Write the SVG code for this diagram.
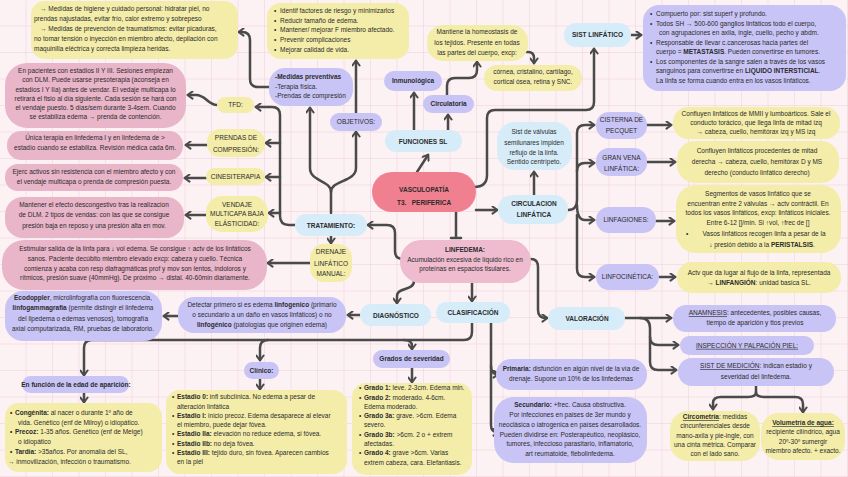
<svg xmlns="http://www.w3.org/2000/svg" width="848" height="477" viewBox="0 0 848 477">
<defs>
<pattern id="grid" width="26.5" height="26.5" patternUnits="userSpaceOnUse">
<path d="M26.5,0 V26.5 M0,26.5 H26.5" fill="none" stroke="#eecbd7" stroke-width="0.9"/>
</pattern>
<marker id="ar" viewBox="0 0 10 10" refX="7" refY="5" markerWidth="3.6" markerHeight="3.6" orient="auto" markerUnits="strokeWidth">
<path d="M2,1 L7.5,5 L2,9" fill="none" stroke="#4a4a4a" stroke-width="2.2" stroke-linecap="round" stroke-linejoin="round"/>
</marker>
<style>
.y{fill:#f4eda9}
.p{fill:#e9b5c9}
.l{fill:#c9c4f6}
.c{fill:#d6edf9}
text{font-family:"Liberation Sans",Arial,sans-serif;font-size:6.5px;fill:#2b2b2b}
.m{text-anchor:middle}
.b{font-weight:bold}
.k path{fill:none;stroke:#4a4a4a;stroke-width:2.5;stroke-linecap:round;stroke-linejoin:round}
.k .a{marker-end:url(#ar)}
</style>
</defs>
<rect width="848" height="477" fill="#fcf1f3"/>
<rect width="848" height="477" fill="url(#grid)"/>

<g class="k" id="connectors">
<path class="a" d="M269,87 H258 Q250,87 250,79 V40 Q250,32 242,32 H239"/>
<path class="a" d="M356,113 V61"/>
<path class="a" d="M331,213 V192 C331,180 310,182 310,168 V108"/>
<path class="a" d="M331,192 C331,180 356,182 356,168 V132"/>
<path class="a" d="M295,225 H289 Q280,225 280,216 V115 Q280,107 272,107 H256"/>
<path class="a" d="M280,143 H266"/>
<path class="a" d="M280,177 H266"/>
<path class="a" d="M280,213 H269"/>
<path class="a" d="M217,105 C208,105 206,95 196,95 H188"/>
<path class="a" d="M207,145 H186"/>
<path class="a" d="M206,178 H185"/>
<path class="a" d="M206,215 H186"/>
<path class="a" d="M310,263 H268"/>
<path class="a" d="M331,236 V243"/>
<path class="a" d="M403,259 Q395,259 395,251 V233 Q395,225 387,225 H368"/>
<path class="a" d="M414,281 C414,291 397,287 397,296 V303"/>
<path class="a" d="M360,315 H348"/>
<path class="a" d="M178,316 H164"/>
<path d="M456,212 V238 M451,238 H461"/>
<path class="a" d="M472,283 V301"/>
<path class="a" d="M472,323 V332 Q472,340 464,340 H92 Q84,340 84,348 V375"/>
<path class="a" d="M268,340 Q260,340 260,348 V360"/>
<path class="a" d="M404,340 Q412,340 412,346 V349"/>
<path class="a" d="M84,393 V402"/>
<path class="a" d="M260,379 V389"/>
<path class="a" d="M412,368 V382"/>
<path class="a" d="M491,323 V425 Q491,432 497,432 H498"/>
<path class="a" d="M491,366 Q491,374 497,374 H498"/>
<path class="a" d="M531,259 Q538,259 538,267 V310 Q538,318 546,318 H547"/>
<path class="a" d="M625,318 H671"/>
<path class="a" d="M640,318 Q650,318 650,328 V337 Q650,345 658,345 H678"/>
<path class="a" d="M650,337 V362 Q650,370 658,370 H676"/>
<path class="a" d="M756,386 V392 Q756,397 748,397 H721 Q713,397 713,403 V409"/>
<path class="a" d="M756,392 Q756,397 764,397 H795 Q803,397 803,404 V412"/>
<path class="a" d="M476,210 H497"/>
<path class="a" d="M474,187 Q487,187 487,175 V118 Q487,110 495,110 H586 Q594,110 594,102 V49"/>
<path class="a" d="M631,35 H641"/>
<path class="a" d="M534,195 V172"/>
<path class="a" d="M568,210 Q577,210 577,200 V133 Q577,125 585,125 H594"/>
<path class="a" d="M577,171 Q577,163 585,163 H594"/>
<path class="a" d="M577,205 Q577,220 585,220 H594"/>
<path class="a" d="M577,215 V269 Q577,277 585,277 H594"/>
<path class="a" d="M647,125 H671"/>
<path class="a" d="M647,162 H675"/>
<path class="a" d="M656,221 H674"/>
<path class="a" d="M659,277 H675"/>
<path class="a" d="M414,130 V93"/>
<path class="a" d="M448,130 V115"/>
<path class="a" d="M447,95 V86 Q447,78 455,78 H469 Q477,78 477,70 V62"/>
<path class="a" d="M526,52 H528 Q534,52 534,58 V63"/>
<path class="a" d="M417,172 L428,155"/>
</g>

<g id="n-higiene"><rect class="y" x="31" y="1" width="207" height="58" rx="14"/>
<text x="40" y="11.2">→ Medidas de higiene y cuidado personal: hidratar piel, no</text>
<text x="34" y="21.2">prendas najustadas, evitar frío, calor extremo y sobrepeso</text>
<text x="40" y="31.2">→ Medidas de prevención de traumatismos: evitar picaduras,</text>
<text x="34" y="41.2">no tomar tensión o inyección en miembro afecto, depilación con</text>
<text x="34" y="51.2">maquinilla eléctrica y correcta limpieza heridas.</text></g>

<g id="n-pacientes"><rect class="p" x="5" y="63" width="181" height="65" rx="22"/>
<text class="m" x="95.5" y="73.2">En pacientes con estadios II Y III. Sesiones empiezan</text>
<text class="m" x="95.5" y="82.4">con DLM. Puede usarse presoterapia (aconseja en</text>
<text class="m" x="95.5" y="91.6">estadíos I Y IIa) antes de vendar. El vedaje multicapa lo</text>
<text class="m" x="95.5" y="100.8">retirará el fisio al día siguiente. Cada sesión se hará con</text>
<text class="m" x="95.5" y="110">el vendaje puesto. 5 días/sem durante 3-4sem. Cuando</text>
<text class="m" x="95.5" y="119.2">se estabiliza edema → prenda de contención.</text></g>

<g id="n-unica"><rect class="p" x="7" y="131" width="176" height="29" rx="14"/>
<text class="m" x="95" y="140.2">Única terapia en linfedema I y en linfedema de &gt;</text>
<text class="m" x="95" y="150.2">estadío cuando se estabiliza. Revisión médica cada 6m.</text></g>

<g id="n-ejerc"><rect class="p" x="5" y="164" width="178" height="27" rx="13"/>
<text class="m" x="94" y="174.2">Ejerc activos sin resistencia con el miembro afecto y con</text>
<text class="m" x="94" y="184.2">el vendaje multicapa o prenda de compresión puesta.</text></g>

<g id="n-mantener"><rect class="p" x="5" y="197" width="179" height="41" rx="18"/>
<text class="m" x="94" y="206.5">Mantener el efecto descongestivo tras la realizacion</text>
<text class="m" x="94" y="217.2">de DLM. 2 tipos de vendas: con las que se consigue</text>
<text class="m" x="94" y="228">presión baja en reposo y una presión alta en mov.</text></g>

<g id="n-estimular"><rect class="p" x="2" y="240" width="265" height="50" rx="22"/>
<text class="m" x="135" y="251.2" font-size="6.3">Estimular salida de la linfa para ↓ vol edema. Se consigue ↑ actv de los linfáticos</text>
<text class="m" x="135" y="261" font-size="6.3">sanos. Paciente decúbito miembro elevado excp: cabeza y cuello. Técnica</text>
<text class="m" x="135" y="270.5" font-size="6.3">comienza y acaba con resp diafragmáticas prof y mov son lentos, indoloros y</text>
<text class="m" x="135" y="280.3" font-size="6.3">rítmicos, presión suave (40mmHg). De próximo → distal. 40-60min diariamente.</text></g>

<g id="n-ecodoppler"><rect class="l" x="5" y="291" width="157" height="50" rx="18"/>
<text class="m" x="83" y="300.2"><tspan class="b">Ecodoppler</tspan>, microlinfografía con fluorescencia,</text>
<text class="m" x="83" y="310.4"><tspan class="b">linfogammagrafía</tspan> (permite distingir el linfedema</text>
<text class="m" x="83" y="320.6">del lipedema o edemas venosos), tomografía</text>
<text class="m" x="83" y="330.8">axial computarizada, RM, pruebas de laboratorio.</text></g>

<g id="n-detectar"><rect class="l" x="178" y="297" width="168" height="36" rx="16"/>
<text class="m" x="262" y="307.2">Detectar primero si es edema <tspan class="b">linfogenico</tspan> (primario</text>
<text class="m" x="262" y="317.2">o secundario a un daño en vasos linfáticos) o no</text>
<text class="m" x="262" y="327.2"><tspan class="b">linfogénico</tspan> (patologías que originen edema)</text></g>

<g id="n-diagnostico"><rect class="c" x="360" y="304" width="71" height="22" rx="11"/>
<text class="m b" x="396" y="317.6" font-size="7.2">DIAGNÓSTICO</text></g>

<g id="n-clasificacion"><rect class="c" x="436" y="302" width="74" height="21" rx="10.5"/>
<text class="m b" x="473" y="315" font-size="7.2">CLASIFICACIÓN</text></g>

<g id="n-edad-label"><rect class="l" x="22" y="376" width="107" height="17" rx="8.5"/>
<text class="m b" x="76" y="386.7" font-size="6">En función de la edad de aparición:</text></g>

<g id="n-edad"><rect class="y" x="5" y="403" width="157" height="69" rx="14"/>
<text x="10" y="415"><tspan class="b">•</tspan></text><text x="15" y="415"><tspan class="b">Congénita:</tspan> al nacer o durante 1º año de</text>
<text x="18" y="424.7">vida. Genético (enf de Milroy) o idiopático.</text>
<text x="10" y="434.4"><tspan class="b">•</tspan></text><text x="15" y="434.4"><tspan class="b">Precoz:</tspan> 1-35 años. Genético (enf de Meige)</text>
<text x="18" y="444.1">o idiopático</text>
<text x="10" y="453.8"><tspan class="b">•</tspan></text><text x="15" y="453.8"><tspan class="b">Tardía:</tspan> &gt;35años. Por anomalía del SL,</text>
<text x="8" y="463.5">→ inmovilización, infección o traumatismo.</text></g>

<g id="n-clinico-label"><rect class="l" x="244" y="362" width="35" height="17" rx="8.5"/>
<text class="m b" x="261.5" y="372.8" font-size="7">Clínico:</text></g>

<g id="n-clinico"><rect class="y" x="166" y="390" width="181" height="84" rx="14"/>
<text x="172" y="399.2">•</text><text x="177" y="399.2"><tspan class="b">Estadio 0:</tspan> infl subclínica. No edema a pesar de</text>
<text x="177" y="408.5">alteración linfática</text>
<text x="172" y="417.8">•</text><text x="177" y="417.8"><tspan class="b">Estadio I:</tspan> inicio precoz. Edema desaparece al elevar</text>
<text x="177" y="427.1">el miembro, puede dejar fóvea.</text>
<text x="172" y="436.4">•</text><text x="177" y="436.4"><tspan class="b">Estadio IIa:</tspan> elevación no reduce edema,  si  fóvea.</text>
<text x="172" y="445.7">•</text><text x="177" y="445.7"><tspan class="b">Estadio IIb:</tspan> no deja fóvea.</text>
<text x="172" y="455">•</text><text x="177" y="455"><tspan class="b">Estadio III:</tspan> tejido duro, sin fóvea. Aparecen cambios</text>
<text x="177" y="464.3">en la piel</text></g>

<g id="n-grados-label"><rect class="l" x="373" y="350" width="77" height="18" rx="9"/>
<text class="m b" x="411.5" y="361.3" font-size="6.6">Grados de severidad</text></g>

<g id="n-grados"><rect class="y" x="352" y="383" width="120" height="92" rx="14"/>
<text x="359" y="390.2">•</text><text x="364" y="390.2"><tspan class="b">Grado 1:</tspan> leve. 2-3cm. Edema min.</text>
<text x="359" y="399.5">•</text><text x="364" y="399.5"><tspan class="b">Grado 2:</tspan> moderado. 4-6cm.</text>
<text x="364" y="408.8">Edema moderado.</text>
<text x="359" y="418.1">•</text><text x="364" y="418.1"><tspan class="b">Grado 3a:</tspan> grave. &gt;6cm. Edema</text>
<text x="364" y="427.4">severo.</text>
<text x="359" y="436.7">•</text><text x="364" y="436.7"><tspan class="b">Grado 3b:</tspan> &gt;6cm. 2 o + extrem</text>
<text x="364" y="446">afectadas.</text>
<text x="359" y="455.3">•</text><text x="364" y="455.3"><tspan class="b">Grado 4:</tspan> grave &gt;6cm. Varias</text>
<text x="364" y="464.6">extrem cabeza, cara. Elefantiasis.</text></g>

<g id="n-primaria"><rect class="l" x="496" y="359" width="151" height="31" rx="15"/>
<text class="m" x="571" y="371.2"><tspan class="b">Primaria:</tspan> disfunción en algún nivel de la vía de</text>
<text class="m" x="571" y="381.2">drenaje. Supone un 10% de los linfedemas</text></g>

<g id="n-secundario"><rect class="l" x="494" y="397" width="153" height="66" rx="20"/>
<text class="m" x="570" y="407.2"><tspan class="b">Secundario:</tspan> +frec. Causa obstructiva.</text>
<text class="m" x="570" y="417.2">Por infecciones en países de 3er mundo y</text>
<text class="m" x="570" y="427.2">neoclásica o iatrogenica en países desarrollados.</text>
<text class="m" x="570" y="436.8">Pueden dividirse en: Posterapéutico, neoplásico,</text>
<text class="m" x="570" y="446.4">tumores, infeccioso parasitario, inflamatorio,</text>
<text class="m" x="570" y="456">art reumatoide, flebolinfedema.</text></g>

<g id="n-valoracion"><rect class="c" x="548" y="307" width="77" height="23" rx="11.5"/>
<text class="m b" x="587" y="320.8" font-size="6.8">VALORACIÓN</text></g>

<g id="n-anamnesis"><rect class="l" x="673" y="305" width="163" height="27" rx="13"/>
<text class="m" x="755" y="315.2"><tspan text-decoration="underline">ANAMNESIS</tspan>: antecedentes, posibles causas,</text>
<text class="m" x="755" y="325.2">tiempo de aparición y ttos previos</text></g>

<g id="n-inspeccion"><rect class="l" x="680" y="336" width="134" height="19" rx="9.5"/>
<text class="m" x="747" y="347.8" text-decoration="underline">INSPECCIÓN Y PALPACIÓN PIEL:</text></g>

<g id="n-medicion"><rect class="l" x="678" y="358" width="156" height="28" rx="14"/>
<text class="m" x="756" y="368.2"><tspan text-decoration="underline">SIST DE MEDICIÓN</tspan>: indican estadío y</text>
<text class="m" x="756" y="379.2">severidad del linfedema.</text></g>

<g id="n-circometria"><rect class="y" x="670" y="411" width="90" height="50" rx="18"/>
<text class="m" x="715" y="419.2"><tspan class="b" text-decoration="underline">Circometría</tspan>: medidas</text>
<text class="m" x="715" y="428.4">cincunferenciales desde</text>
<text class="m" x="715" y="437.6">mano-axila y pie-ingle, con</text>
<text class="m" x="715" y="446.8">una cinta métrica. Comparar</text>
<text class="m" x="715" y="456">con el lado sano.</text></g>

<g id="n-volumetria"><rect class="y" x="761" y="413" width="84" height="47" rx="18"/>
<text class="m b" x="803" y="425.2" text-decoration="underline">Volumetría de agua:</text>
<text class="m" x="803" y="434.4">recipiente cilíndrico, agua</text>
<text class="m" x="803" y="443.6">20º-30º sumergir</text>
<text class="m" x="803" y="452.8">miembro afecto. + exacto.</text></g>

<g id="n-sist-linfatico"><rect class="c" x="564" y="23" width="67" height="24" rx="12"/>
<text class="m b" x="597.5" y="37.3" font-size="6.8">SIST LINFÁTICO</text></g>

<g id="n-sist-detalle"><rect class="l" x="643" y="5" width="203" height="86" rx="16"/>
<text x="650" y="16.2" font-size="6.7">•</text><text x="656" y="16.2" font-size="6.7">Compuerto por: sist superf y profundo.</text>
<text x="650" y="25.7" font-size="6.7">•</text><text x="656" y="25.7" font-size="6.7">Todos SH → 500-600 ganglios linfáticos todo el cuerpo,</text>
<text x="659" y="35.2" font-size="6.7">con agrupaciones en axila, ingle, cuello, pecho y abdm.</text>
<text x="650" y="44.7" font-size="6.7">•</text><text x="656" y="44.7" font-size="6.7">Responsable de llevar c.cancerosas hacia partes del</text>
<text x="656" y="54.2" font-size="6.7">cuerpo = <tspan class="b">METASTASIS</tspan>. Pueden convertirse en tumores.</text>
<text x="650" y="63.7" font-size="6.7">•</text><text x="656" y="63.7" font-size="6.7">Los componentes de la sangre salen a través de los vasos</text>
<text x="656" y="73.2" font-size="6.7">sanguinos para convertirse en <tspan class="b">LIQUIDO INTERSTICIAL</tspan>.</text>
<text x="656" y="82.7" font-size="6.7">La linfa se forma cuando entra en los vasos linfáticos.</text></g>

<g id="n-inmunologica"><rect class="l" x="384" y="71" width="58" height="20" rx="10"/>
<text class="m b" x="413" y="83.3" font-size="6.6">Inmunológica</text></g>

<g id="n-circulatoria"><rect class="l" x="423" y="95" width="51" height="18" rx="9"/>
<text class="m b" x="448.5" y="106.3" font-size="6.6">Circulatoria</text></g>

<g id="n-funciones"><rect class="c" x="385" y="130" width="77" height="22" rx="11"/>
<text class="m b" x="423" y="143.5" font-size="7.3">FUNCIONES SL</text></g>

<g id="n-homeostasis"><rect class="y" x="427" y="25" width="101" height="36" rx="16"/>
<text class="m" x="477" y="34.2">Mantiene la homeostasis de</text>
<text class="m" x="477" y="44.5">los tejidos. Presente en todas</text>
<text class="m" x="477" y="54.5">las partes del cuerpo, excp:</text></g>

<g id="n-cornea"><rect class="y" x="484" y="65" width="98" height="26" rx="13"/>
<text class="m" x="533" y="74.2">córnea, cristalino, cartílago,</text>
<text class="m" x="533" y="84">cortical ósea, retina y SNC.</text></g>

<g id="n-valvulas"><rect class="c" x="497" y="122" width="75" height="48" rx="18"/>
<text class="m" x="534" y="134.2">Sist de válvulas</text>
<text class="m" x="534" y="145">semilunares impiden</text>
<text class="m" x="534" y="155.2">reflujo de la linfa.</text>
<text class="m" x="534" y="164.3">Sentido centrípeto.</text></g>

<g id="n-circulacion"><rect class="c" x="498" y="195" width="70" height="29" rx="14"/>
<text class="m b" x="534" y="205.5" font-size="7">CIRCULACION</text>
<text class="m b" x="534" y="216.5" font-size="7">LINFÁTICA</text></g>

<g id="n-cisterna"><rect class="l" x="596" y="112" width="51" height="27" rx="13"/>
<text class="m" x="621.5" y="121.7">CISTERNA DE</text>
<text class="m" x="621.5" y="132.5">PECQUET</text></g>

<g id="n-cisterna-d"><rect class="y" x="673" y="107" width="167" height="32" rx="15"/>
<text class="m" x="756" y="116.2">Confluyen linfáticos de MMII y lumboárticos. Sale el</text>
<text class="m" x="756" y="125.2">conducto torácico, que llega linfa de mitad izq</text>
<text class="m" x="756" y="134.2">→ cabeza, cuello, hemitórax izq y MS izq</text></g>

<g id="n-granvena"><rect class="l" x="596" y="148" width="51" height="28" rx="13"/>
<text class="m" x="621.5" y="159.5">GRAN VENA</text>
<text class="m" x="621.5" y="170.5">LINFÁTICA:</text></g>

<g id="n-granvena-d"><rect class="y" x="677" y="141" width="162" height="42" rx="18"/>
<text class="m" x="757" y="153.2">Confluyen linfáticos procedentes de mitad</text>
<text class="m" x="757" y="164">derecha → cabeza, cuello, hemitórax D y MS</text>
<text class="m" x="757" y="175">derecho (conducto linfático derecho)</text></g>

<g id="n-linfagiones"><rect class="l" x="596" y="207" width="60" height="26" rx="13"/>
<text class="m" x="626" y="222.3">LINFAGIONES:</text></g>

<g id="n-linfagiones-d"><rect class="y" x="676" y="185" width="165" height="68" rx="20"/>
<text class="m" x="758" y="196.2">Segmentos de vasos linfático que se</text>
<text class="m" x="758" y="205.5">encuentran entre 2 válvulas → actv contráctil. En</text>
<text class="m" x="758" y="214.9">todos los vasos linfáticos, excp: linfáticos iniciales.</text>
<text class="m" x="758" y="224.5">Entre 6-12 []/min. Si ↑vol, ↑frec de []</text>
<text x="686" y="236.2">•</text><text class="m" x="764" y="236.2">Vasos linfáticos recogen linfa a pesar de la</text>
<text class="m" x="762" y="247.2">↓ presión debido a la <tspan class="b">PERISTALSIS</tspan>.</text></g>

<g id="n-linfocinetica"><rect class="l" x="596" y="264" width="63" height="26" rx="13"/>
<text class="m" x="627.5" y="279.3">LINFOCINÉTICA:</text></g>

<g id="n-linfocinetica-d"><rect class="y" x="677" y="262" width="164" height="31" rx="15"/>
<text class="m" x="759" y="274.5">Actv que da lugar al flujo de la linfa, representada</text>
<text class="m" x="759" y="284.5">→ <tspan class="b">LINFANGIÓN</tspan>: unidad basica SL.</text></g>

<g id="n-vasculopatia"><rect x="372" y="172" width="104" height="40" rx="20" fill="#f0808f"/>
<text class="m b" x="424" y="192.3" font-size="9">VASCULOPATÍA</text>
<text class="m b" x="424" y="204.5" font-size="8.5" xml:space="preserve">T3.   PERIFERICA</text></g>

<g id="n-linfedema"><rect x="400" y="240" width="131" height="43" rx="21" fill="#efbbcf"/>
<text class="m b" x="465" y="251.8" font-size="7.8">LINFEDEMA:</text>
<text class="m" x="465" y="262">Acumulación excesiva de líquido rico en</text>
<text class="m" x="465" y="270.5">proteínas en espacios tisulares.</text></g>

<g id="n-tratamiento"><rect class="c" x="295" y="214" width="72" height="22" rx="11"/>
<text class="m b" x="331" y="227.5" font-size="7">TRATAMIENTO:</text></g>

<g id="n-drenaje"><rect class="y" x="310" y="244" width="42" height="38" rx="14"/>
<text class="m" x="331" y="254">DRENAJE</text>
<text class="m" x="331" y="265.5">LINFÁTICO</text>
<text class="m" x="331" y="275.5">MANUAL:</text></g>

<g id="n-tfd"><rect class="y" x="217" y="97" width="37" height="16" rx="8"/>
<text class="m" x="235.5" y="107.3">TFD:</text></g>

<g id="n-prendas"><rect class="y" x="207" y="129" width="58" height="28" rx="13"/>
<text class="m" x="236" y="139.5">PRENDAS DE</text>
<text class="m" x="236" y="151.5">COMPRESIÓN:</text></g>

<g id="n-cinesiterapia"><rect class="y" x="206" y="168" width="59" height="17" rx="8.5"/>
<text class="m" x="235.5" y="178.6">CINESITERAPIA</text></g>

<g id="n-vendaje"><rect class="y" x="206" y="196" width="62" height="36" rx="16"/>
<text class="m" x="237" y="207.3">VENDAJE</text>
<text class="m" x="237" y="216.3">MULTICAPA BAJA</text>
<text class="m" x="237" y="225.5">ELÁSTICIDAD:</text></g>

<g id="n-objetivos"><rect class="l" x="330" y="113" width="52" height="18" rx="9"/>
<text class="m" x="356" y="124.3" font-size="6.6">OBJETIVOS:</text></g>

<g id="n-medidas"><rect class="l" x="269" y="68" width="84" height="38" rx="16"/>
<text class="b" x="275" y="79.3">-Medidas preventivas</text>
<text x="275" y="88.5">-Terapia física.</text>
<text x="275" y="98">-Prendas de compresión</text></g>

<g id="n-objetivos-d"><rect class="y" x="267" y="3" width="142" height="56" rx="14"/>
<text x="274" y="13.2" font-size="6.9">•</text><text x="280" y="13.2" font-size="6.9">Identif factores de riesgo y minimizarlos</text>
<text x="274" y="22.8" font-size="6.9">•</text><text x="280" y="22.8" font-size="6.9">Reducir tamaño de edema.</text>
<text x="274" y="32.4" font-size="6.9">•</text><text x="280" y="32.4" font-size="6.9">Mantener/ mejorar F miembro afectado.</text>
<text x="274" y="42.2" font-size="6.9">•</text><text x="280" y="42.2" font-size="6.9">Prevenir complicaciones</text>
<text x="274" y="52.2" font-size="6.9">•</text><text x="280" y="52.2" font-size="6.9">Mejorar calidad de vida.</text></g>
</svg>
